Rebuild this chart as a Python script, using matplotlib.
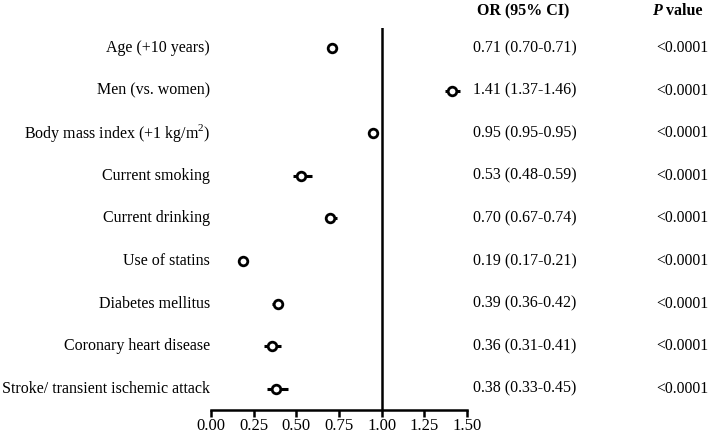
import matplotlib
matplotlib.use("Agg")
import matplotlib.pyplot as plt
import matplotlib.transforms as mtransforms

labels = ["Age (+10 years)", "Men (vs. women)", "Body mass index (+1 kg/m$^2$)",
          "Current smoking", "Current drinking", "Use of statins",
          "Diabetes mellitus", "Coronary heart disease",
          "Stroke/ transient ischemic attack"]
or_vals = [0.71, 1.41, 0.95, 0.53, 0.70, 0.19, 0.39, 0.36, 0.38]
ci_low = [0.70, 1.37, 0.95, 0.48, 0.67, 0.17, 0.36, 0.31, 0.33]
ci_high = [0.71, 1.46, 0.95, 0.59, 0.74, 0.21, 0.42, 0.41, 0.45]
p_vals = ["<0.0001"] * 9
xticks = [0.00, 0.25, 0.50, 0.75, 1.00, 1.25, 1.50]

plt.rcParams['font.family'] = ['Liberation Serif', 'DejaVu Serif']
plt.rcParams['mathtext.fontset'] = 'custom'
plt.rcParams['mathtext.rm'] = 'Liberation Serif'

W, H = 709, 434
fig = plt.figure(figsize=(W / 100, H / 100), dpi=100)
ax = fig.add_axes([211 / W, 24 / H, 256 / W, 382 / H])

ys = list(range(len(labels)))
fs = 11.5
for y, o, lo, hi in zip(ys, or_vals, ci_low, ci_high):
    ax.plot([lo, hi], [y, y], color='black', lw=2.2, solid_capstyle='butt', zorder=2)
ax.plot(or_vals, ys, linestyle='none', marker='o', markersize=6.2,
        markerfacecolor='white', markeredgecolor='black', markeredgewidth=2.0, zorder=3)

ax.axvline(1.0, color='black', lw=1.8, zorder=1)
ax.set_xlim(0, 1.5)
ax.set_ylim(len(labels) - 1 + 0.5, -0.47)
ax.set_xticks(xticks)
ax.set_xticklabels([f"{t:.2f}" for t in xticks], fontsize=12)
ax.set_yticks([])
for s in ['top', 'right', 'left']:
    ax.spines[s].set_visible(False)
ax.spines['bottom'].set_linewidth(1.8)
ax.tick_params(axis='x', direction='out', length=5, width=1.8, pad=1)

trans = mtransforms.blended_transform_factory(fig.transFigure, ax.transData)
for y, lab, o, lo, hi, p in zip(ys, labels, or_vals, ci_low, ci_high, p_vals):
    ax.text(210 / W, y, lab, transform=trans, ha='right', va='center', fontsize=fs, clip_on=False)
    ax.text(473 / W, y, f"{o:.2f} ({lo:.2f}-{hi:.2f})", transform=trans, ha='left',
            va='center', fontsize=fs, clip_on=False)
    ax.text(656 / W, y, p, transform=trans, ha='left', va='center', fontsize=11.3, clip_on=False)

fig.text(477 / W, 1 - 11 / H, "OR (95% CI)", ha='left', va='center', fontsize=fs, fontweight='bold')
fig.text(652 / W, 1 - 11 / H, "P", ha='left', va='center', fontsize=fs,
         fontweight='bold', fontstyle='italic')
fig.text(666 / W, 1 - 11 / H, "value", ha='left', va='center', fontsize=fs, fontweight='bold')

fig.savefig("out.png", dpi=100)
